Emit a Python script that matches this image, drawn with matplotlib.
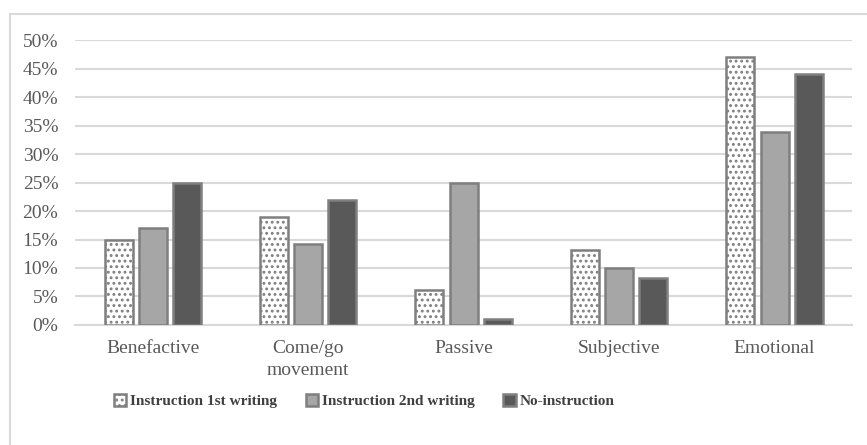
import numpy as np
import matplotlib
matplotlib.use("Agg")
import matplotlib.pyplot as plt
from matplotlib.patches import Rectangle
from matplotlib.ticker import PercentFormatter

categories = ["Benefactive", "Come/go\nmovement", "Passive", "Subjective", "Emotional"]
first_writing = [15.0, 19.0, 6.2, 13.2, 47.0]
second_writing = [17.0, 14.2, 25.0, 10.0, 33.8]
no_instruction = [25.0, 22.0, 1.0, 8.2, 44.0]
series_names = ["Instruction 1st writing", "Instruction 2nd writing", "No-instruction"]

plt.rcParams["font.family"] = ["Liberation Serif", "DejaVu Serif"]
plt.rcParams["hatch.linewidth"] = 1.3
plt.rcParams["hatch.color"] = "#404040"

fig = plt.figure(figsize=(8.67, 4.45), dpi=100)
ax = fig.add_axes([0.0865, 0.2697, 0.8965, 0.6403])

# light frame around the whole chart
fig.patches.append(Rectangle((10 / 867, -0.1), 1.1, 1 - 14 / 445 + 0.1,
                             transform=fig.transFigure, fill=False,
                             edgecolor="#d9d9d9", linewidth=1.5))

x = np.arange(len(categories))
w = 0.18
step = 0.22
edge = "#7f7f7f"
ax.bar(x - step, first_writing, w, facecolor="white", edgecolor=edge,
       hatch="...", linewidth=1.8, label=series_names[0], zorder=3)
ax.bar(x, second_writing, w, facecolor="#a6a6a6", edgecolor=edge,
       linewidth=1.8, label=series_names[1], zorder=3)
ax.bar(x + step, no_instruction, w, facecolor="#595959", edgecolor=edge,
       linewidth=1.8, label=series_names[2], zorder=3)

ax.set_ylim(0, 50)
ax.set_xlim(-0.5, len(categories) - 0.5)
ax.set_yticks(np.arange(0, 51, 5))
ax.yaxis.set_major_formatter(PercentFormatter(decimals=0))
ax.grid(axis="y", color="#d9d9d9", linewidth=1.5, zorder=0)
for s in ["top", "right", "left"]:
    ax.spines[s].set_visible(False)
ax.spines["bottom"].set_color("#d9d9d9")
ax.spines["bottom"].set_linewidth(1.5)
ax.set_xticks(x)
ax.set_xticklabels(categories, linespacing=1.35)
ax.tick_params(axis="both", length=0, labelsize=14, labelcolor="#595959")
ax.tick_params(axis="x", pad=11)
ax.tick_params(axis="y", pad=12)

leg = fig.legend(loc="center", bbox_to_anchor=(364 / 867, 1 - 401 / 445), ncol=3,
                 frameon=False, handlelength=0.8, handleheight=0.8,
                 handletextpad=0.25, columnspacing=1.9,
                 prop={"weight": "bold", "size": 11})
for t in leg.get_texts():
    t.set_color("#404040")

fig.savefig("out.png", dpi=100)
